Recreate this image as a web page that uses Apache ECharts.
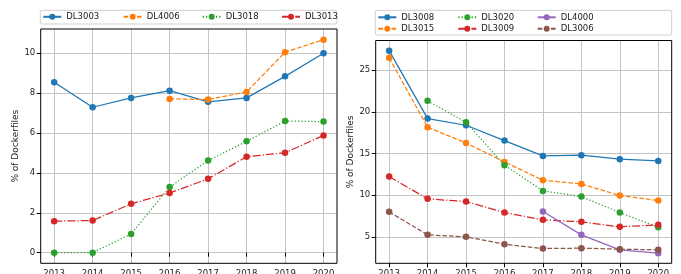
<!DOCTYPE html>
<html>
<head>
<meta charset="utf-8">
<script src="https://cdn.jsdelivr.net/npm/echarts@6/dist/echarts.min.js"></script>
<style>
html,body{margin:0;padding:0;background:#fff;}
#chart{width:681px;height:274px;}
</style>
</head>
<body>
<div id="chart"></div>
<script>
// ---- Data ----
const years = [2013, 2014, 2015, 2016, 2017, 2018, 2019, 2020];

// Left panel
const leftNames = ['DL3003', 'DL4006', 'DL3018', 'DL3013'];
const DL3003 = [8.54, 7.29, 7.76, 8.12, 7.56, 7.76, 8.84, 10.0];
const DL4006 = [null, null, null, 7.71, 7.68, 8.06, 10.05, 10.68];
const DL3018 = [0.0, 0.0, 0.94, 3.29, 4.62, 5.58, 6.6, 6.57];
const DL3013 = [1.58, 1.61, 2.45, 2.99, 3.70, 4.81, 5.01, 5.88];
const leftValues = [DL3003, DL4006, DL3018, DL3013];

// Right panel
const rightNames = ['DL3008', 'DL3015', 'DL3020', 'DL3009', 'DL4000', 'DL3006'];
const DL3008 = [27.36, 19.2, 18.4, 16.56, 14.72, 14.8, 14.32, 14.12];
const DL3015 = [26.49, 18.16, 16.28, 14.0, 11.8, 11.36, 9.96, 9.36];
const DL3020 = [null, 21.33, 18.76, 13.6, 10.52, 9.84, 7.92, 6.15];
const DL3009 = [12.24, 9.56, 9.24, 7.92, 7.04, 6.8, 6.2, 6.44];
const DL4000 = [null, null, null, null, 8.04, 5.24, 3.44, 3.04];
const DL3006 = [8.0, 5.24, 5.0, 4.12, 3.6, 3.64, 3.52, 3.44];
const rightValues = [DL3008, DL3015, DL3020, DL3009, DL4000, DL3006];

const leftYTicks = [0, 2, 4, 6, 8, 10];
const rightYTicks = [5, 10, 15, 20, 25];
const yAxisTitle = '% of Dockerfiles';

// ---- Styles ----
const FONT = 'DejaVu Sans';
const colors = ['#1f77b4', '#ff7f0e', '#2ca02c', '#d62728', '#9467bd', '#8c564b'];
const LW = 1.25;
const dashes = {
  solid: 'solid',
  dashed: [3.7 * LW, 1.6 * LW],
  dotted: [1 * LW, 1.65 * LW],
  dashdot: [6.4 * LW, 1.6 * LW, 1 * LW, 1.6 * LW]
};
const leftStyles = ['solid', 'dashed', 'dotted', 'dashdot'];
const rightStyles = ['solid', 'dashed', 'dotted', 'dashdot', 'solid', 'dashed'];

function pairs(vals) {
  const out = [];
  vals.forEach((v, i) => { if (v !== null) out.push([years[i], v]); });
  return out;
}
function range(valsList) {
  const all = [].concat(...valsList).filter(v => v !== null);
  const mn = Math.min(...all), mx = Math.max(...all);
  const m = (mx - mn) * 0.05;
  return [mn - m, mx + m];
}

const grids = [
  { left: 40.7, top: 29, width: 296.3, height: 234.3 },
  { left: 375.7, top: 40.5, width: 296, height: 222.8 }
];

const xMin = years[0] - 0.35, xMax = years[years.length - 1] + 0.35;

function xAxis(gi) {
  return {
    type: 'value', gridIndex: gi, min: xMin, max: xMax,
    axisLine: { show: false },
    axisTick: { show: true, inside: false, length: 4, customValues: years, lineStyle: { color: '#000', width: 1 } },
    axisLabel: { customValues: years, margin: 6, fontSize: 8.5, fontFamily: FONT, color: '#222', formatter: v => String(v) },
    splitLine: { show: true, lineStyle: { color: '#c4c4c4', width: 1 } }
  };
}
function yAxis(gi, ticks, rng, gap) {
  return {
    type: 'value', gridIndex: gi, min: rng[0], max: rng[1],
    name: yAxisTitle, nameLocation: 'middle', nameRotate: 90, nameGap: gap,
    nameTextStyle: { fontSize: 9, fontFamily: FONT, color: '#222' },
    axisLine: { show: false },
    axisTick: { show: true, inside: false, length: 4, customValues: ticks, lineStyle: { color: '#000', width: 1 } },
    axisLabel: { customValues: ticks, margin: 5.5, fontSize: 8.5, fontFamily: FONT, color: '#222' },
    splitLine: { show: true, lineStyle: { color: '#c4c4c4', width: 1 } }
  };
}

const series = [];
leftNames.forEach((n, i) => {
  series.push({
    name: n, type: 'line', xAxisIndex: 0, yAxisIndex: 0,
    data: pairs(leftValues[i]),
    symbol: 'circle', symbolSize: 6.5, showSymbol: true,
    color: colors[i],
    lineStyle: { color: colors[i], width: LW, type: dashes[leftStyles[i]] },
    itemStyle: { color: colors[i] },
    animation: false, z: 2 + i
  });
});
rightNames.forEach((n, i) => {
  series.push({
    name: n, type: 'line', xAxisIndex: 1, yAxisIndex: 1,
    data: pairs(rightValues[i]),
    symbol: 'circle', symbolSize: 6.5, showSymbol: true,
    color: colors[i],
    lineStyle: { color: colors[i], width: LW, type: dashes[rightStyles[i]] },
    itemStyle: { color: colors[i] },
    animation: false, z: 2 + i
  });
});

function legendItem(name, left, top) {
  return {
    data: [name], left: left, top: top, padding: 0,
    itemWidth: 18, itemHeight: 7.5, itemGap: 0,
    textStyle: { fontSize: 8.5, fontFamily: FONT, color: '#222', padding: [0, 0, 0, 0] },
    selectedMode: false
  };
}
const legends = [];
const leftCols = [42.3, 122.7, 201.7, 281];
leftNames.forEach((n, i) => legends.push(legendItem(n, leftCols[i], 12.3)));
const rightCols = [377.3, 457.3, 536.7, 616];
// matplotlib column-major order, 4 columns
rightNames.forEach((n, i) => {
  const col = Math.floor(i / 2), row = i % 2;
  legends.push(legendItem(n, rightCols[col], 12.8 + row * 11.5));
});

const option = {
  backgroundColor: '#fff',
  animation: false,
  grid: grids.map(g => Object.assign({ show: true, borderColor: '#000', borderWidth: 1, backgroundColor: 'transparent', z: 3, containLabel: false, outerBoundsMode: 'none' }, g)),
  xAxis: [xAxis(0), xAxis(1)],
  yAxis: [yAxis(0, leftYTicks, range(leftValues), 18), yAxis(1, rightYTicks, range(rightValues), 19.5)],
  legend: legends,
  graphic: [
    { type: 'rect', shape: { x: 40.3, y: 10.3, width: 296.7, height: 13.7, r: 2 }, style: { fill: '#fff', stroke: '#d0d0d0', lineWidth: 1 }, z: -1 },
    { type: 'rect', shape: { x: 375.3, y: 10.3, width: 296.4, height: 24.7, r: 2 }, style: { fill: '#fff', stroke: '#d0d0d0', lineWidth: 1 }, z: -1 }
  ],
  series: series
};

const chart = echarts.init(document.getElementById('chart'), null, { renderer: 'canvas' });
chart.setOption(option);
</script>
</body>
</html>
